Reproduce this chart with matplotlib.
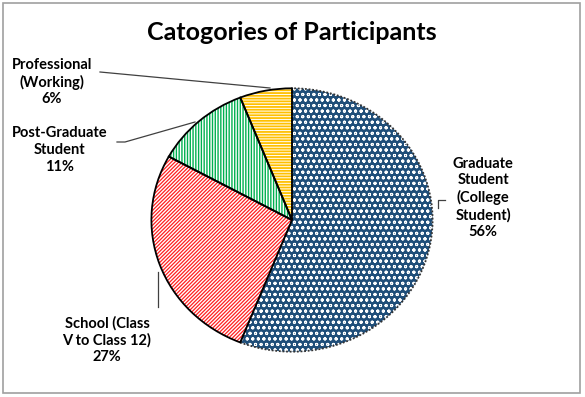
import matplotlib
matplotlib.use("Agg")
import matplotlib.pyplot as plt
from matplotlib.lines import Line2D
from matplotlib.patches import Rectangle

plt.rcParams['font.family'] = ['Lato', 'DejaVu Sans']

title = "Catogories of Participants"
categories = ["Graduate\nStudent\n(College\nStudent)", "School (Class\nV to Class 12)",
              "Post-Graduate\nStudent", "Professional\n(Working)"]
values = [56, 27, 11, 6]
face_colors = ["#1F4E79", "white", "white", "white"]
hatch_colors = ["white", "#FF2020", "#00B050", "#FFC000"]
hatches = ["ooo", "/" * 9, "|" * 6, "-" * 6]
hatch_lws = [0.7, 0.9, 1.0, 1.3]

W, H = 585, 397
fig = plt.figure(figsize=(W / 100, H / 100), dpi=100)

def fx(x):
    return x / W

def fy(y):
    return 1 - y / H

# border
fig.add_artist(Rectangle((fx(3), fy(393)), fx(577), 390 / H, transform=fig.transFigure,
                         fill=False, edgecolor="#A0A0A0", linewidth=1.2))

cx, cy, rx, ry = 292, 220, 142, 133
ax = fig.add_axes([fx(cx - rx), fy(cy + ry), 2 * rx / W, 2 * ry / H])

wedges, _ = ax.pie(values, startangle=90, counterclock=False, radius=1)
for w, fc, hc, h, hl in zip(wedges, face_colors, hatch_colors, hatches, hatch_lws):
    w.set_facecolor(fc)
    w.set_edgecolor(hc)
    w.set_hatch(h)
    w.set_linewidth(0)
    if hasattr(w, "set_hatch_linewidth"):
        w.set_hatch_linewidth(hl)
    else:
        w._hatch_linewidth = hl
# outlines
wedges2, _ = ax.pie(values, startangle=90, counterclock=False, radius=1,
                    wedgeprops=dict(fill=False, edgecolor="black", linewidth=1.3))
wedges2[0].set_linestyle((0, (1, 1)))
wedges2[0].set_edgecolor("#333333")
ax.set_aspect('auto')
ax.set_xlim(-1.01, 1.01)
ax.set_ylim(-1.01, 1.01)
ax.axis('off')

fig.text(fx(292), fy(33), title, ha='center', va='center', fontsize=18, fontweight='bold')

pcts = [f"{v}%" for v in values]
label_pos = [(483, 198), (107, 340), (60, 150), (52, 82)]
for cat, p, (x, y) in zip(categories, pcts, label_pos):
    fig.text(fx(x), fy(y), cat + "\n" + p, ha='center', va='center', fontsize=10.5,
             fontweight='bold', linespacing=1.25)

leaders = [
    [(445, 200), (438, 200), (438, 208)],
    [(158, 272), (158, 307)],
    [(117, 142), (125, 142), (195, 122)],
    [(100, 72), (270, 88)],
]
for pts in leaders:
    xs = [fx(p[0]) for p in pts]
    ys = [fy(p[1]) for p in pts]
    fig.add_artist(Line2D(xs, ys, transform=fig.transFigure, color="#404040", linewidth=0.9))

fig.savefig("out.png", dpi=100)
